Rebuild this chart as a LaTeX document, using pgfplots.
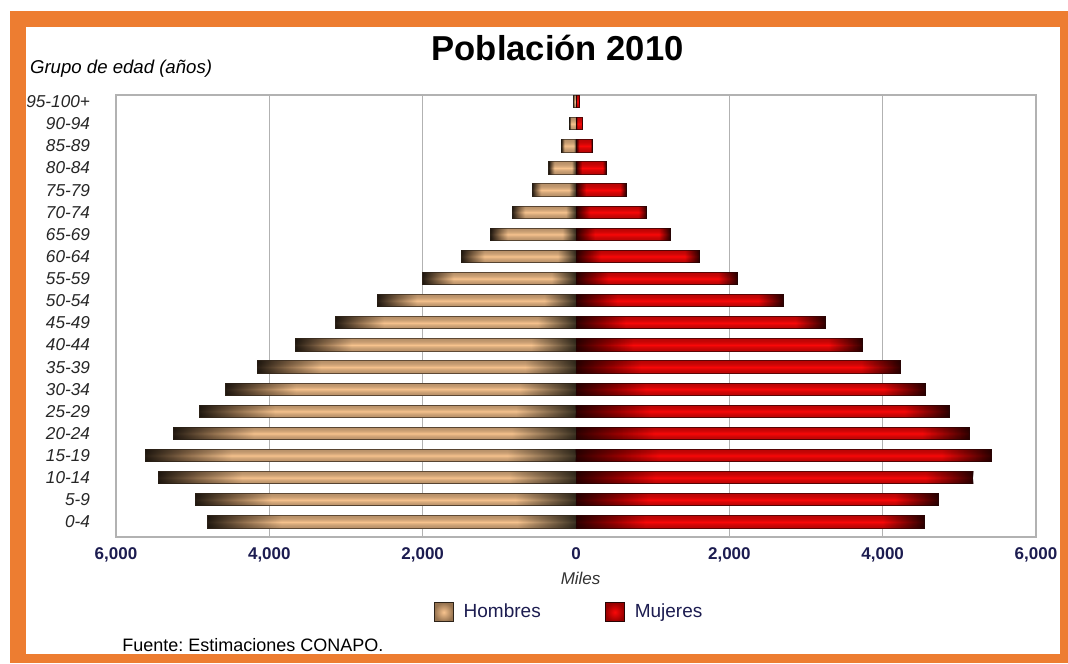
\documentclass[border=0pt]{standalone}
\usepackage{pgfplots}
\pgfplotsset{compat=1.18}
\usepackage{pgfplotstable}
\usepackage{fontspec}
\setmainfont{Liberation Sans}
\usetikzlibrary{fadings}

\definecolor{frameorange}{RGB}{237,125,49}
\definecolor{hdark}{RGB}{40,30,20}
\definecolor{hmid}{RGB}{150,115,80}
\definecolor{htan}{RGB}{247,195,142}
\definecolor{hbrown}{RGB}{60,50,34}
\definecolor{hline}{RGB}{45,35,25}
\definecolor{mdark}{RGB}{50,0,0}
\definecolor{mmid}{RGB}{150,0,0}
\definecolor{mred}{RGB}{250,8,8}
\definecolor{mline}{RGB}{40,5,5}
\definecolor{navy}{RGB}{28,28,80}

\pgfdeclarehorizontalshading{hombreshade}{100bp}{color(0bp)=(hdark); color(25bp)=(hdark); color(30bp)=(hmid); color(35bp)=(htan); color(67bp)=(htan); color(75bp)=(hbrown); color(100bp)=(hbrown)}
\pgfdeclarehorizontalshading{mujershade}{100bp}{color(0bp)=(mdark); color(25bp)=(mdark); color(30bp)=(mmid); color(35bp)=(mred); color(69bp)=(mred); color(75bp)=(mdark); color(100bp)=(mdark)}
\tikzfading[name=cyl, top color=transparent!50, bottom color=transparent!50, middle color=transparent!100]

% poblacion en miles, por grupo de edad
\pgfplotstableread{
idx age h m
0 0-4 4805 4540
1 5-9 4965 4723
2 10-14 5447 5178
3 15-19 5616 5417
4 20-24 5251 5130
5 25-29 4905 4866
6 30-34 4566 4561
7 35-39 4159 4227
8 40-44 3660 3743
9 45-49 3134 3251
10 50-54 2591 2703
11 55-59 1999 2109
12 60-64 1497 1611
13 65-69 1116 1228
14 70-74 833 924
15 75-79 573 655
16 80-84 355 395
17 85-89 191 212
18 90-94 85 88
19 95-100+ 30 50
}\pop

\begin{document}
\frenchspacing
\begin{tikzpicture}
\useasboundingbox (0,0) rectangle (534pt,331.5pt);
\fill[white] (0,0) rectangle (534pt,331.5pt);
\fill[frameorange] (5pt,0) rectangle (534pt,326pt);
\fill[white] (13pt,4.5pt) rectangle (530pt,318pt);

\begin{axis}[
    at={(58pt,63pt)}, anchor=south west,
    scale only axis, width=460pt, height=221pt,
    xmin=-6000, xmax=6000, ymin=-0.68, ymax=19.3,
    xtick={-6000,-4000,-2000,2000,4000,6000},
    xticklabels={{6,000},{4,000},{2,000},{2,000},{4,000},{6,000}},
    extra x ticks={0}, extra x tick labels={0},
    extra x tick style={grid=none},
    xmajorgrids=true,
    grid style={draw=black!30, line width=0.6pt},
    ytick={0,...,19},
    yticklabels from table={\pop}{age},
    major tick length=0pt,
    axis line style={draw=black!30, line width=0.6pt},
    xticklabel style={font=\bfseries\fontsize{8.5}{10}\selectfont, text=navy, yshift=-2pt},
    yticklabel style={font=\itshape\fontsize{8.6}{10}\selectfont, text=black!85, xshift=-9.5pt},
    title={Población 2010},
    title style={at={(axis description cs:0.48,1.079)}, anchor=center, font=\bfseries\fontsize{17.3}{20}\selectfont},
    ylabel={Grupo de edad (años)},
    ylabel style={rotate=-90, at={(axis description cs:0,1)}, anchor=west, xshift=-46.5pt, yshift=13pt, font=\itshape\fontsize{9.3}{11}\selectfont},
    xlabel={Miles},
    xlabel style={at={(axis description cs:0.505,-0.0928)}, anchor=center, font=\itshape\fontsize{8.5}{10}\selectfont, text=black!80},
    legend style={at={(0.4935,-0.17)}, anchor=center, draw=none, fill=none,
        legend columns=2, font=\fontsize{9.5}{11}\selectfont, text=navy,
        /tikz/every odd column/.append style={column sep=3pt},
        /tikz/every even column/.append style={column sep=30pt}},
    hbar/.style={xbar, bar width=0.555, draw=hline, line width=0.5pt,
        shading=hombreshade, postaction={fill=black, path fading=cyl}, forget plot},
    mbar/.style={xbar, bar width=0.555, draw=mline, line width=0.5pt,
        shading=mujershade, postaction={fill=black, path fading=cyl}, forget plot},
]
% one plot per bar, so that each bar gets its own shading
\pgfplotsinvokeforeach{0,...,19}{
  \addplot[hbar, restrict expr to domain={\coordindex}{#1:#1}] table[x expr=-\thisrow{h}, y=idx] {\pop};
  \addplot[mbar, restrict expr to domain={\coordindex}{#1:#1}] table[x=m, y=idx] {\pop};
}
\addlegendimage{legend image code/.code={\draw[draw=hline, line width=0.5pt, inner color=htan, outer color=hmid] (0pt,-4.75pt) rectangle (9.5pt,4.75pt);}}
\addlegendentry{Hombres}
\addlegendimage{legend image code/.code={\draw[draw=mline, line width=0.5pt, inner color=mred, outer color=mmid] (0pt,-4.75pt) rectangle (9.5pt,4.75pt);}}
\addlegendentry{Mujeres}
\end{axis}

\node[anchor=west, inner sep=0pt, font=\fontsize{9}{11}\selectfont] at (61pt,8.8pt) {Fuente: Estimaciones CONAPO.};
\end{tikzpicture}
\end{document}
